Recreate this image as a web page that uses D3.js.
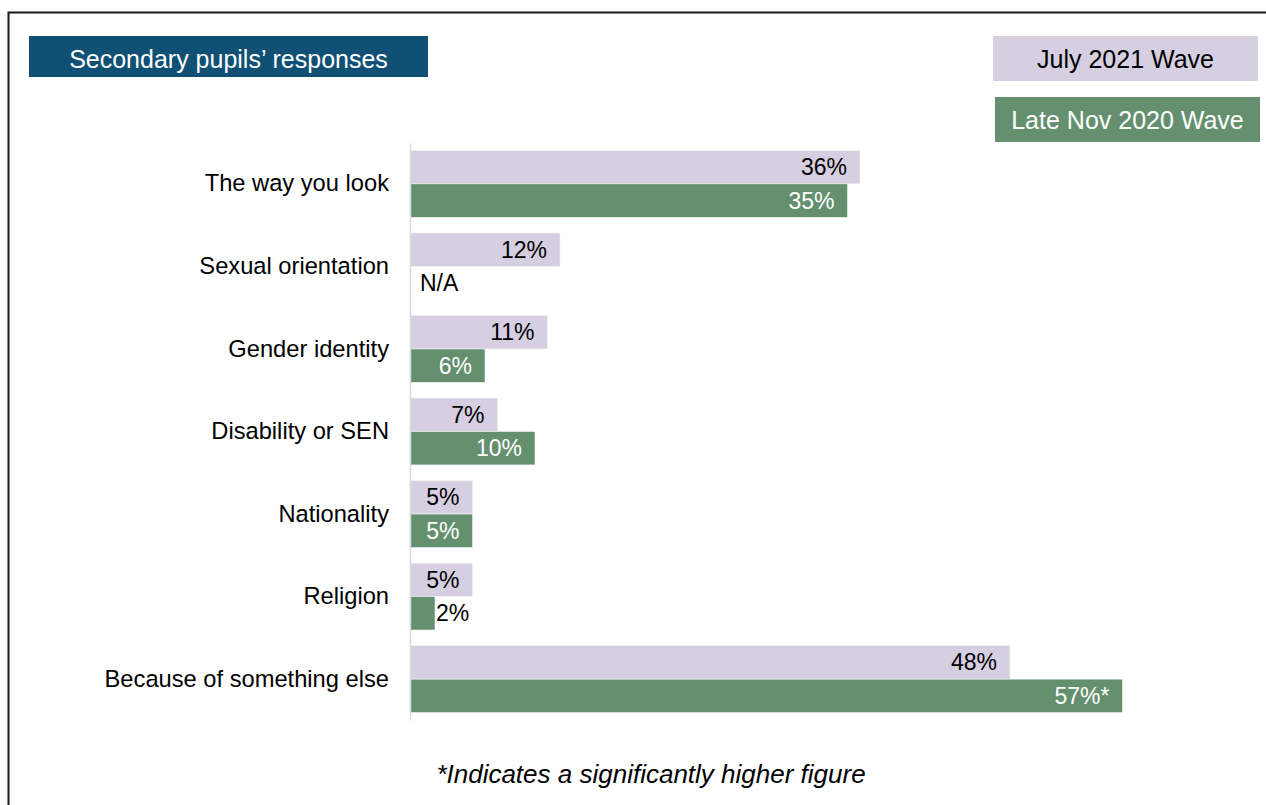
<!DOCTYPE html>
<html>
<head>
<meta charset="utf-8">
<script src="https://cdn.jsdelivr.net/npm/d3@7"></script>
<style>
  html, body { margin: 0; padding: 0; background: #fff; }
  svg { display: block; font-family: "Liberation Sans", Arial, sans-serif; }
</style>
</head>
<body>
<svg id="chart" width="1266" height="805"></svg>
<script>
// Reasons given for being bullied, by survey wave
const categories = [
  "The way you look",
  "Sexual orientation",
  "Gender identity",
  "Disability or SEN",
  "Nationality",
  "Religion",
  "Because of something else"
];
const july2021 = [36, 12, 11, 7, 5, 5, 48];
const lateNov2020 = [35, null, 6, 10, 5, 2, 57];
const lateNovMarks = ["", "", "", "", "", "", "*"];
const seriesNames = ["July 2021 Wave", "Late Nov 2020 Wave"];
const titleText = "Secondary pupils\u2019 responses";
const footnoteText = "*Indicates a significantly higher figure";

const colJuly = "#d5cfe1";
const colNov = "#649070";
const colTitle = "#0f5074";

const svg = d3.select("#chart");

// outer frame
svg.append("rect")
  .attr("x", 8.5).attr("y", 12.5)
  .attr("width", 1300).attr("height", 900)
  .attr("fill", "none").attr("stroke", "#1a1a1a").attr("stroke-width", 2);

// title box
svg.append("rect").attr("x", 29).attr("y", 36).attr("width", 399).attr("height", 41).attr("fill", colTitle);
svg.append("text").attr("x", 228.5).attr("y", 68).attr("text-anchor", "middle")
  .attr("fill", "#fff").attr("font-size", 25).text(titleText);

// legend boxes
const legend = [
  { name: seriesNames[0], fill: colJuly, text: "#000", x: 993, y: 36 },
  { name: seriesNames[1], fill: colNov, text: "#fff", x: 995, y: 97 }
];
legend.forEach(d => {
  svg.append("rect").attr("x", d.x).attr("y", d.y).attr("width", 265).attr("height", 45).attr("fill", d.fill);
  svg.append("text").attr("x", d.x + 132.5).attr("y", d.y + 32).attr("text-anchor", "middle")
    .attr("fill", d.text).attr("font-size", 25).text(d.name);
});

// scales
const x = d3.scaleLinear().domain([0, 60]).range([410, 1160]);
const y = d3.scaleBand().domain(categories).range([143, 720]).paddingInner(0.19).paddingOuter(0.09);
const sub = d3.scaleBand().domain(seriesNames).range([0, y.bandwidth()]);

const rows = categories.map((c, i) => ({
  cat: c,
  vals: [
    { s: seriesNames[0], v: july2021[i], mark: "", fill: colJuly, lab: "#000" },
    { s: seriesNames[1], v: lateNov2020[i], mark: lateNovMarks[i], fill: colNov, lab: "#fff" }
  ]
}));

const g = svg.append("g");
const groups = g.selectAll("g.row").data(rows).join("g")
  .attr("class", "row")
  .attr("transform", d => `translate(0,${y(d.cat)})`);

groups.selectAll("rect").data(d => d.vals.filter(v => v.v != null)).join("rect")
  .attr("x", x(0))
  .attr("y", d => sub(d.s))
  .attr("width", d => x(d.v) - x(0))
  .attr("height", sub.bandwidth())
  .attr("fill", d => d.fill)
  .attr("stroke", "#f4f4f4").attr("stroke-width", 0.6);

groups.selectAll("text.val").data(d => d.vals).join("text")
  .attr("class", "val")
  .attr("font-size", 23)
  .attr("y", d => sub(d.s) + sub.bandwidth() / 2 + 8)
  .each(function (d) {
    const t = d3.select(this);
    if (d.v == null) {
      t.attr("x", x(0) + 10).attr("text-anchor", "start").attr("fill", "#000").text("N/A");
    } else if (x(d.v) - x(0) < 45) {
      t.attr("x", x(d.v) + 1).attr("text-anchor", "start").attr("fill", "#000").text(d.v + "%" + d.mark);
    } else {
      t.attr("x", x(d.v) - 13).attr("text-anchor", "end").attr("fill", d.lab).text(d.v + "%" + d.mark);
    }
  });

// category axis
const axis = d3.axisLeft(y).tickSize(0).tickPadding(21);
const ax = svg.append("g").attr("transform", `translate(${x(0)},0)`).call(axis);
ax.select(".domain").attr("stroke", "#d9d9d9").attr("stroke-width", 1.5);
ax.selectAll(".tick text").attr("font-size", 23.7).attr("fill", "#000")
  .attr("font-family", "Liberation Sans, Arial, sans-serif");

// footnote
svg.append("text").attr("x", 651).attr("y", 783).attr("text-anchor", "middle")
  .attr("font-size", 26).attr("font-style", "italic").attr("fill", "#000").text(footnoteText);
</script>
</body>
</html>
